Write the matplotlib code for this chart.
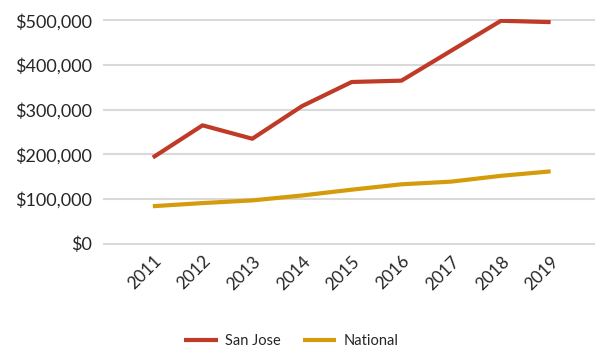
import matplotlib
matplotlib.use("Agg")
import matplotlib.pyplot as plt
from matplotlib.ticker import FuncFormatter

years = [2011, 2012, 2013, 2014, 2015, 2016, 2017, 2018, 2019]
san_jose = [193000, 265000, 235000, 308000, 362000, 365000, 432000, 499000, 496000]
national = [84000, 91000, 97000, 108000, 121000, 133000, 139000, 152000, 162000]

red = "#BF3A27"
gold = "#D49B0B"
text_col = "#262626"

plt.rcParams["font.family"] = ["Lato", "DejaVu Sans"]

fig = plt.figure(figsize=(5.96, 3.47), dpi=100)
ax = fig.add_axes([0.173, 0.295, 0.826, 0.649])

ax.plot(years, san_jose, color=red, lw=3, label="San Jose", solid_capstyle="butt")
ax.plot(years, national, color=gold, lw=3, label="National", solid_capstyle="butt")

ax.set_xlim(2010, 2019.9)
ax.set_ylim(-2000, 502000)
ax.set_yticks(range(0, 500001, 100000))
ax.yaxis.set_major_formatter(FuncFormatter(lambda v, p: "${:,.0f}".format(v)))
ax.set_xticks(years)
ax.set_xticklabels([str(y) for y in years], rotation=45, ha="right",
                   rotation_mode="anchor", fontsize=12.5, color=text_col)
for lab in ax.get_yticklabels():
    lab.set_fontsize(13)
    lab.set_color(text_col)

ax.grid(axis="y", color="#D9D9D9", lw=1.5)
ax.set_axisbelow(True)
for s in ax.spines.values():
    s.set_visible(False)
ax.tick_params(axis="both", length=0)
ax.tick_params(axis="y", pad=8)
ax.tick_params(axis="x", pad=6)

fig.legend(loc="lower center", bbox_to_anchor=(0.489, -0.04), ncol=2, frameon=False,
           fontsize=10.5, handlelength=2.3, handletextpad=0.5, columnspacing=1.5,
           labelcolor=text_col)

fig.savefig("out.png", dpi=100)
